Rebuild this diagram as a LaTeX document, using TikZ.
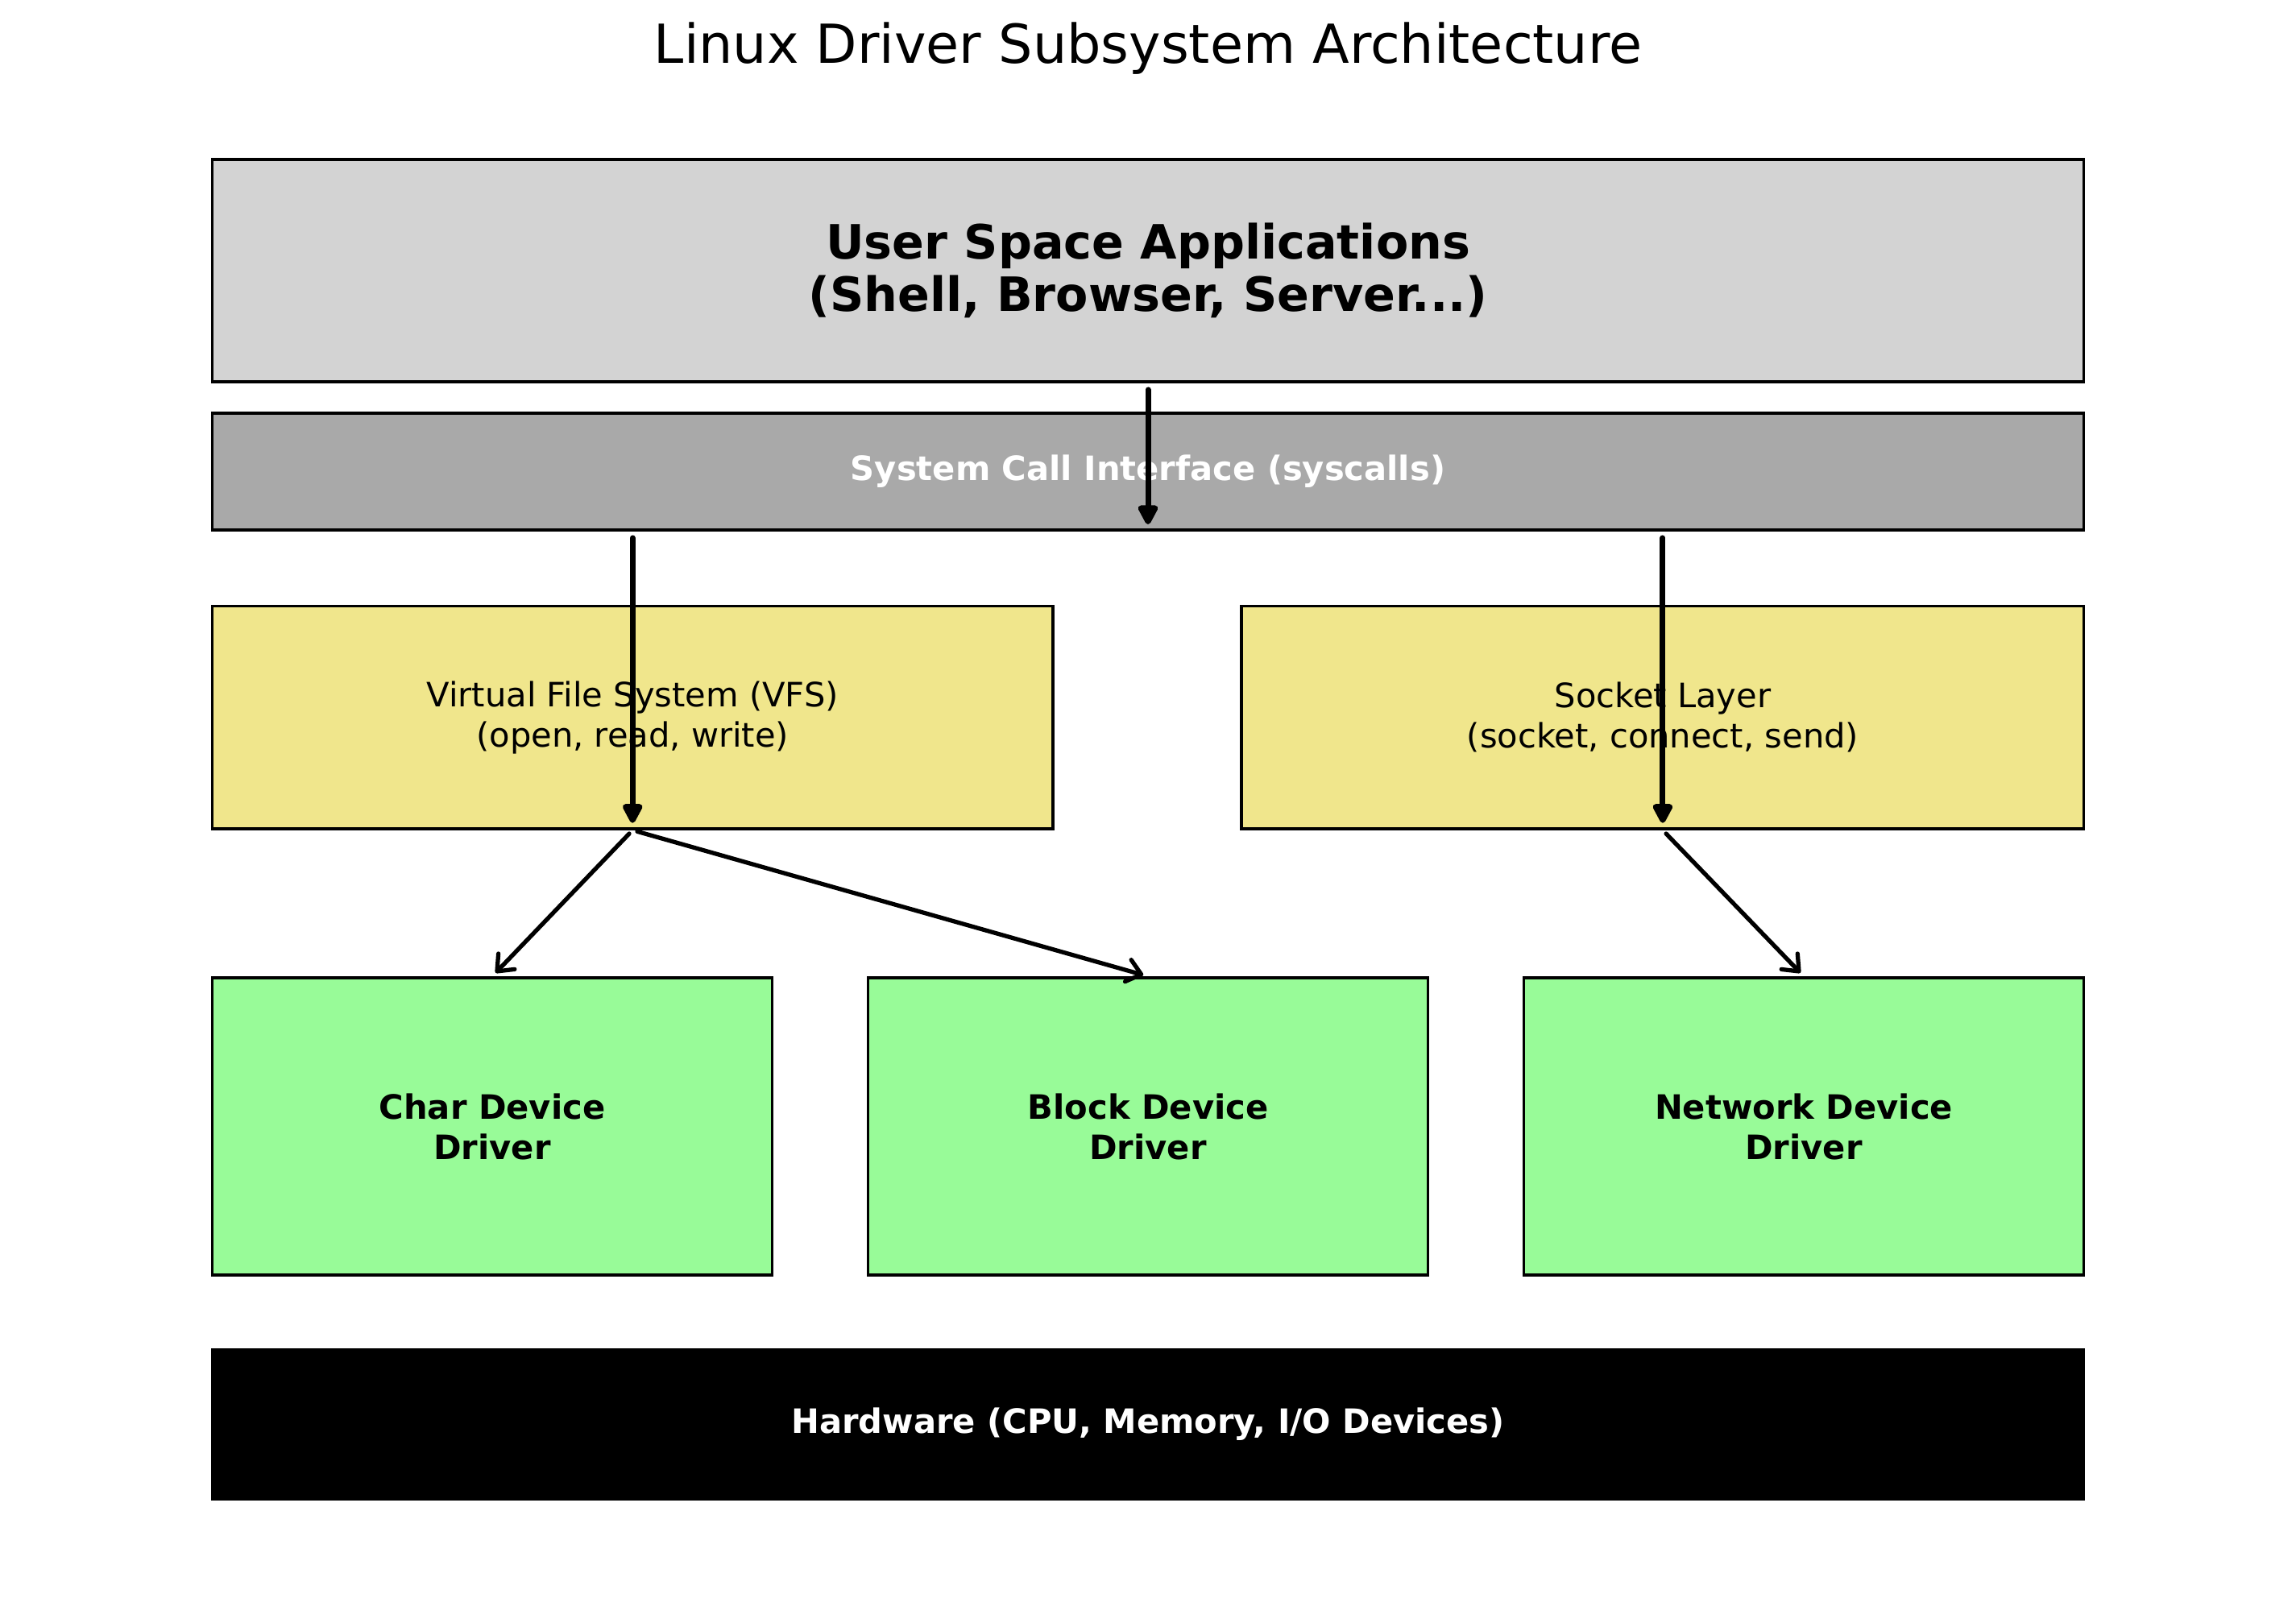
\documentclass[tikz,border=0pt]{standalone}
\usepackage{fontspec}
\setmainfont{DejaVu Sans}
\usetikzlibrary{arrows.meta}

\definecolor{userfill}{HTML}{D3D3D3}
\definecolor{sysfill}{HTML}{A9A9A9}
\definecolor{midfill}{HTML}{F0E68C}
\definecolor{drvfill}{HTML}{98FB98}

\tikzset{
  layer/.style={draw, line width=1.1pt, inner sep=0pt, align=center,
    font=\fontsize{11.85}{14.2}\selectfont},
  flow/.style={line width=2pt, line cap=round,
    -{Triangle[length=0.28cm, width=0.27cm, round]},
    shorten <=0.08cm, shorten >=0.09cm},
  fan/.style={line width=1.5pt, line cap=round,
    -{Straight Barb[length=0.17cm, width=0.28cm, round]},
    shorten <=0.06cm, shorten >=0.06cm}
}

\begin{document}
\begin{tikzpicture}[x=1cm, y=-1cm]

  \useasboundingbox (0,0) rectangle (28.5,19.84);

  \node (title) at (14.25,0.60) [font=\fontsize{19}{23}\selectfont] {Linux Driver Subsystem Architecture};

  \node (user) at (14.25,3.36) [layer, fill=userfill, minimum width=23.23cm, minimum height=2.76cm,
    font=\fontsize{16.7}{18.6}\selectfont\bfseries] {User Space Applications\\(Shell, Browser, Server...)};
  \node (sys) at (14.25,5.853) [layer, fill=sysfill, minimum width=23.23cm, minimum height=1.454cm,
    text=white, font=\fontsize{11.85}{14.2}\selectfont\bfseries] {System Call Interface (syscalls)};

  \node (vfs) at (7.852,8.906) [layer, fill=midfill, minimum width=10.433cm, minimum height=2.763cm]
    {Virtual File System (VFS)\\(open, read, write)};
  \node (sock) at (20.639,8.906) [layer, fill=midfill, minimum width=10.45cm, minimum height=2.763cm]
    {Socket Layer\\(socket, connect, send)};

  \node (chr) at (6.11,13.986) [layer, fill=drvfill, minimum width=6.95cm, minimum height=3.69cm,
    font=\fontsize{11.85}{14.2}\selectfont\bfseries] {Char Device\\Driver};
  \node (blk) at (14.25,13.986) [layer, fill=drvfill, minimum width=6.95cm, minimum height=3.69cm,
    font=\fontsize{11.85}{14.2}\selectfont\bfseries] {Block Device\\Driver};
  \node (net) at (22.39,13.986) [layer, fill=drvfill, minimum width=6.95cm, minimum height=3.69cm,
    font=\fontsize{11.85}{14.2}\selectfont\bfseries] {Network Device\\Driver};

  \node (hw) at (14.25,17.685) [layer, fill=black, minimum width=23.23cm, minimum height=1.854cm,
    text=white, font=\fontsize{11.85}{14.2}\selectfont\bfseries] {Hardware (CPU, Memory, I/O Devices)};

  \draw [flow] (user.south) -- (sys.south);
  \draw [flow] (sys.south -| vfs.south) -- (vfs.south);
  \draw [flow] (sys.south -| sock.south) -- (sock.south);

  \draw [fan] (vfs.south) -- (chr.north);
  \draw [fan] (vfs.south) -- (blk.north);
  \draw [fan] (sock.south) -- (net.north);

\end{tikzpicture}
\end{document}
